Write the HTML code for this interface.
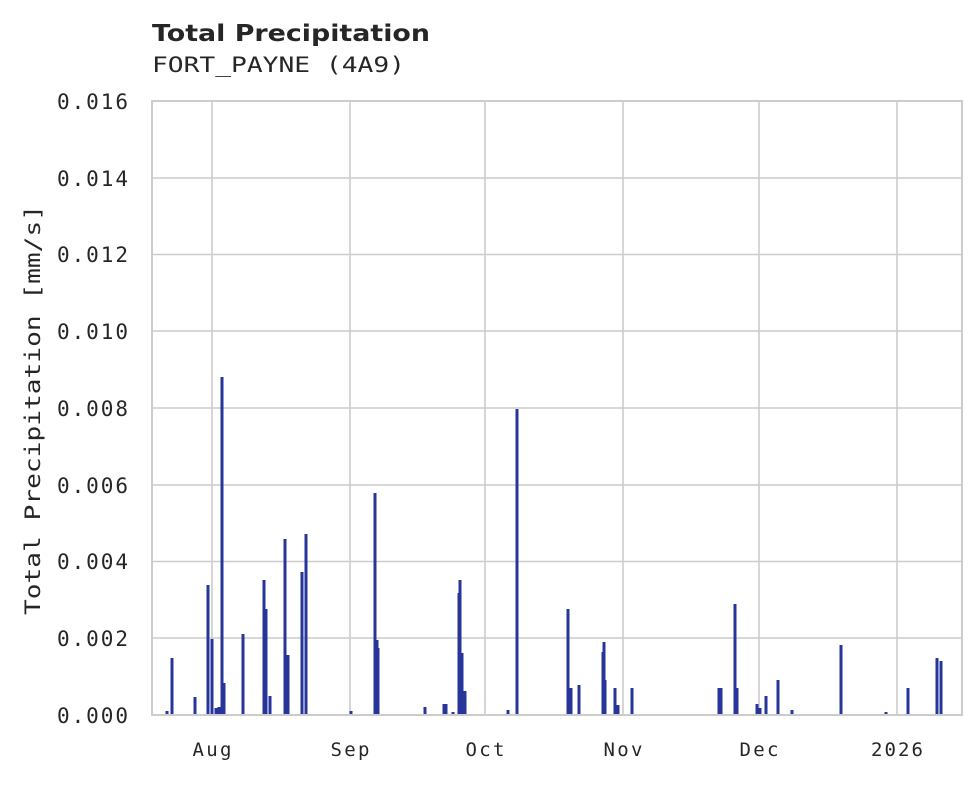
<!DOCTYPE html>
<html><head><style>body{margin:0;background:#fff}</style></head><body>
<svg width="980" height="780" xmlns="http://www.w3.org/2000/svg">
<rect width="980" height="780" fill="#fff"/>
<text x="152" y="41" font-family="DejaVu Sans, sans-serif" font-weight="bold" font-size="23" fill="#262626" textLength="278" lengthAdjust="spacingAndGlyphs">Total Precipitation</text>
<text x="152" y="72" font-family="DejaVu Sans Mono, Liberation Mono, monospace" font-size="21" fill="#262626" textLength="253" lengthAdjust="spacingAndGlyphs">FORT_PAYNE (4A9)</text>
<g stroke="#cccccc" stroke-width="1.6">
<line x1="152" x2="962" y1="178" y2="178"/><line x1="152" x2="962" y1="254.5" y2="254.5"/><line x1="152" x2="962" y1="331" y2="331"/><line x1="152" x2="962" y1="408" y2="408"/><line x1="152" x2="962" y1="485" y2="485"/><line x1="152" x2="962" y1="561.5" y2="561.5"/><line x1="152" x2="962" y1="638" y2="638"/>
<line x1="212" x2="212" y1="101" y2="715"/><line x1="350" x2="350" y1="101" y2="715"/><line x1="485" x2="485" y1="101" y2="715"/><line x1="623" x2="623" y1="101" y2="715"/><line x1="759" x2="759" y1="101" y2="715"/><line x1="897" x2="897" y1="101" y2="715"/>
</g>
<g fill="#27359a" id="bars"></g>
<rect x="152" y="101" width="810" height="614" fill="none" stroke="#cccccc" stroke-width="2"/>
<g font-family="DejaVu Sans Mono, Liberation Mono, monospace" font-size="21" fill="#262626" text-anchor="end" lengthAdjust="spacingAndGlyphs">
<text x="128" y="109" textLength="71">0.016</text><text x="128" y="186" textLength="71">0.014</text><text x="128" y="262" textLength="71">0.012</text><text x="128" y="339" textLength="71">0.010</text><text x="128" y="416" textLength="71">0.008</text><text x="128" y="493" textLength="71">0.006</text><text x="128" y="569" textLength="71">0.004</text><text x="128" y="646" textLength="71">0.002</text><text x="128" y="723" textLength="71">0.000</text>
</g>
<g font-family="DejaVu Sans Mono, Liberation Mono, monospace" font-size="19" fill="#262626" text-anchor="middle">
<text x="212" y="756" textLength="39">Aug</text><text x="350" y="756" textLength="39">Sep</text><text x="485" y="756" textLength="39">Oct</text><text x="623" y="756" textLength="39">Nov</text><text x="759" y="756" textLength="39">Dec</text><text x="897" y="756" textLength="52">2026</text>
</g>
<text transform="translate(40,410) rotate(-90)" font-family="DejaVu Sans Mono, Liberation Mono, monospace" font-size="21" fill="#262626" text-anchor="middle" textLength="410" lengthAdjust="spacingAndGlyphs">Total Precipitation [mm/s]</text>
</svg>
<script>
var d=[[167,711],[172,658],[195,697],[208,585],[212,639],[216,708],[219,707],[222,377],[224,683],[243,634],[264,580],[266,609],[270,696],[285,539],[288,655],[302,572],[306,534],[351,711],[375,493],[377,640],[378,648],[425,707],[444,704],[446,704],[453,712],[459,593],[460,580],[462,653],[465,691],[508,710],[517,409],[568,609],[571,688],[579,685],[603,652],[604,642],[605,680],[615,688],[618,705],[632,688],[719,688],[721,688],[735,604],[737,688],[757,704],[760,708],[766,696],[778,680],[792,710],[841,645],[886,712],[908,688],[937,658],[941,661]];
var g=document.getElementById('bars'),s='';
d.forEach(function(b){s+='<rect x="'+(b[0]-1.5)+'" y="'+b[1]+'" width="3" height="'+(715-b[1])+'"/>';});
g.innerHTML=s;
</script>
</body></html>
